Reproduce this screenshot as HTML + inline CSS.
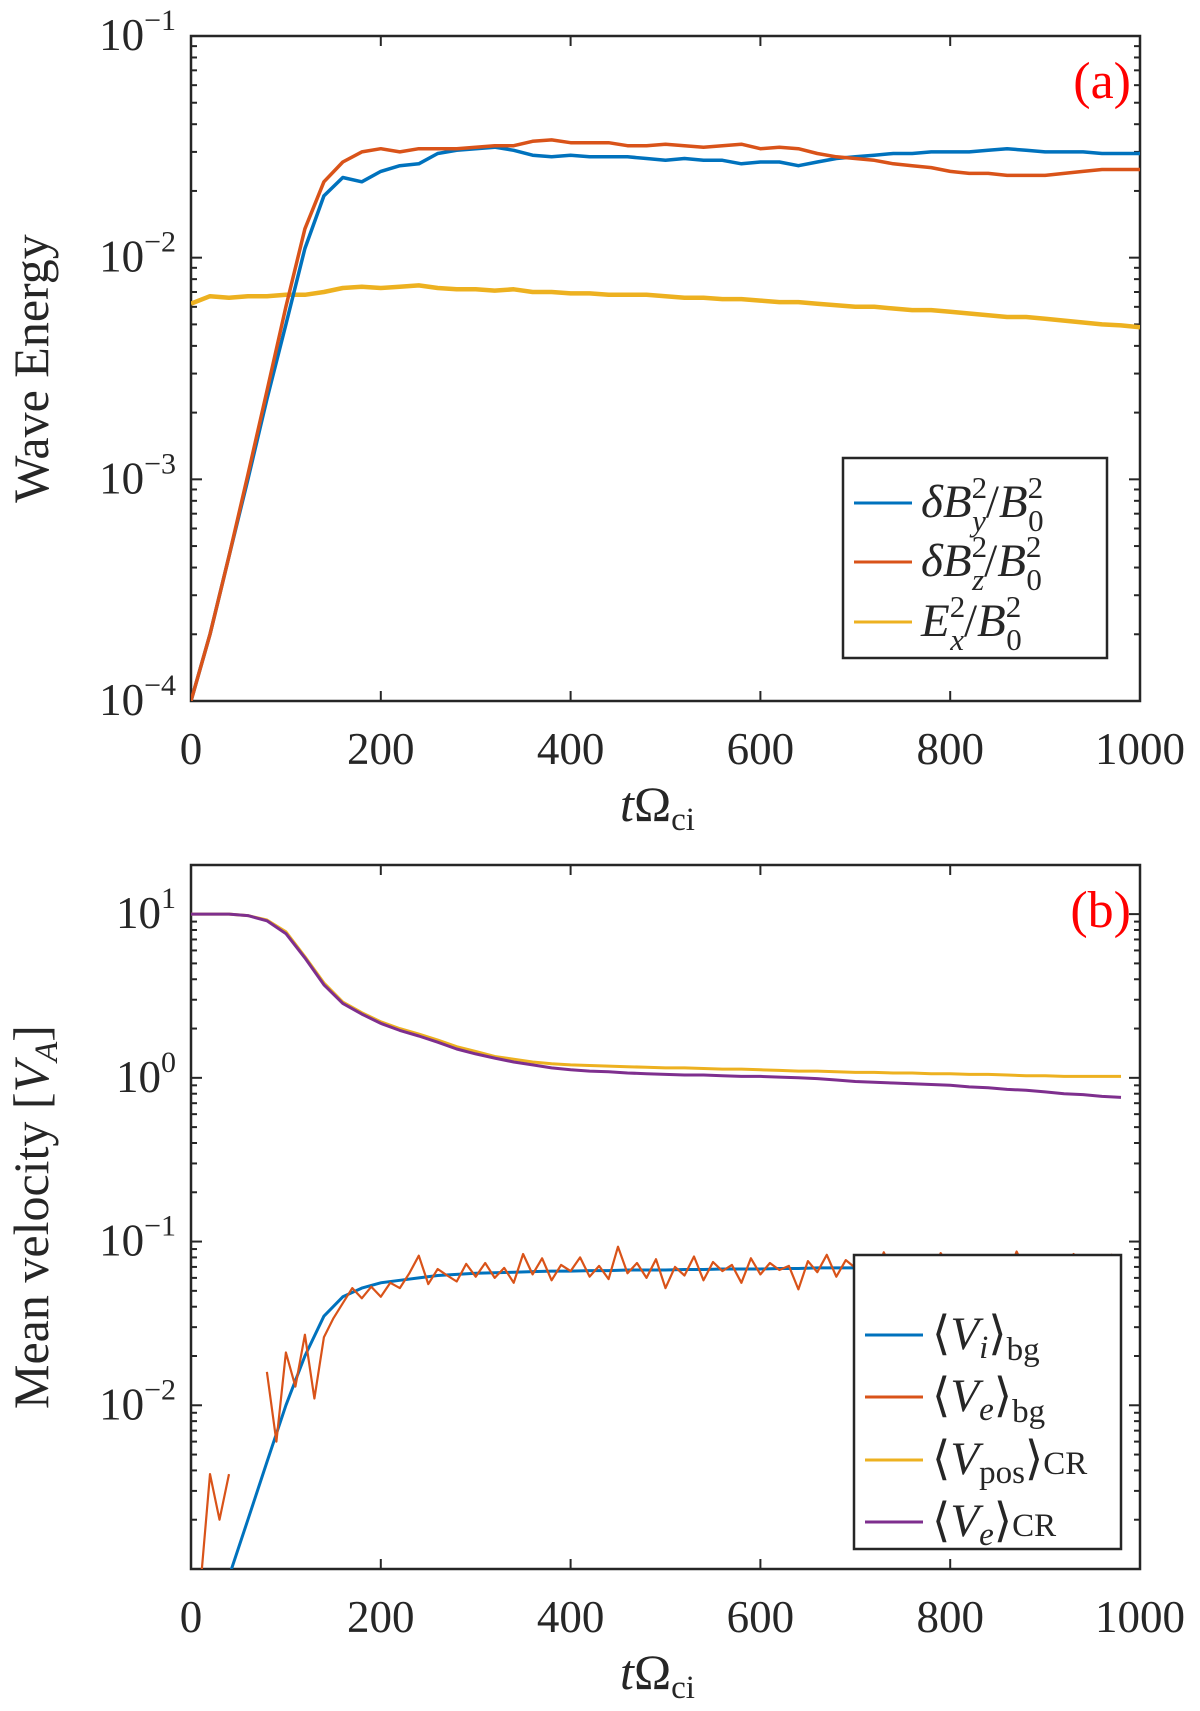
<!DOCTYPE html>
<html><head><meta charset="utf-8">
<style>
html,body{margin:0;padding:0;background:#fff;}
svg{display:block;font-family:"Liberation Serif","DejaVu Serif",serif;}
.tk{font-size:45px;fill:#262626;}
.it{font-style:italic;}
</style></head>
<body>
<svg id="fig" width="1200" height="1711" viewBox="0 0 1200 1711" xmlns="http://www.w3.org/2000/svg">
<defs>
<clipPath id="clipA"><rect x="191" y="36" width="949" height="665"/></clipPath>
<clipPath id="clipB"><rect x="191" y="865" width="949" height="704"/></clipPath>
</defs>
<g id="panelA"></g>
<g id="panelB"></g>
</svg>
<script>
// ---------- Panel (a) data ----------
const tA = [0,20,40,60,80,100,120,140,160,180,200,220,240,260,280,300,320,340,360,380,400,420,440,460,480,500,520,540,560,580,600,620,640,660,680,700,720,740,760,780,800,820,840,860,880,900,920,940,960,980,1000];
const dBy = [1e-4,2e-4,4.5e-4,1e-3,2.3e-3,5e-3,1.1e-2,1.9e-2,2.3e-2,2.2e-2,2.45e-2,2.6e-2,2.65e-2,2.95e-2,3.05e-2,3.1e-2,3.15e-2,3.05e-2,2.9e-2,2.85e-2,2.9e-2,2.85e-2,2.85e-2,2.85e-2,2.8e-2,2.75e-2,2.8e-2,2.75e-2,2.75e-2,2.65e-2,2.7e-2,2.7e-2,2.6e-2,2.7e-2,2.8e-2,2.85e-2,2.9e-2,2.95e-2,2.95e-2,3.0e-2,3.0e-2,3.0e-2,3.05e-2,3.1e-2,3.05e-2,3.0e-2,3.0e-2,3.0e-2,2.95e-2,2.95e-2,2.95e-2];
const dBz = [1e-4,2e-4,4.5e-4,1.05e-3,2.5e-3,6e-3,1.35e-2,2.2e-2,2.7e-2,3.0e-2,3.1e-2,3.0e-2,3.1e-2,3.1e-2,3.1e-2,3.15e-2,3.2e-2,3.2e-2,3.35e-2,3.4e-2,3.3e-2,3.3e-2,3.3e-2,3.2e-2,3.2e-2,3.25e-2,3.2e-2,3.15e-2,3.2e-2,3.25e-2,3.1e-2,3.15e-2,3.1e-2,2.95e-2,2.85e-2,2.8e-2,2.75e-2,2.65e-2,2.6e-2,2.55e-2,2.45e-2,2.4e-2,2.4e-2,2.35e-2,2.35e-2,2.35e-2,2.4e-2,2.45e-2,2.5e-2,2.5e-2,2.5e-2];
const Ex = [6.2e-3,6.7e-3,6.6e-3,6.7e-3,6.7e-3,6.8e-3,6.8e-3,7.0e-3,7.3e-3,7.4e-3,7.3e-3,7.4e-3,7.5e-3,7.3e-3,7.2e-3,7.2e-3,7.1e-3,7.2e-3,7.0e-3,7.0e-3,6.9e-3,6.9e-3,6.8e-3,6.8e-3,6.8e-3,6.7e-3,6.6e-3,6.6e-3,6.5e-3,6.5e-3,6.4e-3,6.3e-3,6.3e-3,6.2e-3,6.1e-3,6.0e-3,6.0e-3,5.9e-3,5.8e-3,5.8e-3,5.7e-3,5.6e-3,5.5e-3,5.4e-3,5.4e-3,5.3e-3,5.2e-3,5.1e-3,5.0e-3,4.95e-3,4.85e-3];
const xTicks = [0,200,400,600,800,1000];
const yTicksA = [-4,-3,-2,-1];

// ---------- Panel (b) data ----------
const tB = [0,20,40,60,80,100,120,140,160,180,200,220,240,260,280,300,320,340,360,380,400,420,440,460,480,500,520,540,560,580,600,620,640,660,680,700,720,740,760,780,800,820,840,860,880,900,920,940,960,980];
const Vpos = [10,10,10,9.8,9.2,7.8,5.5,3.8,2.9,2.5,2.2,2.0,1.85,1.7,1.55,1.45,1.35,1.3,1.25,1.22,1.2,1.19,1.18,1.17,1.16,1.15,1.15,1.14,1.13,1.13,1.12,1.11,1.1,1.1,1.09,1.08,1.08,1.07,1.07,1.06,1.06,1.05,1.05,1.04,1.03,1.03,1.02,1.02,1.02,1.02];
const VeCR = [10,10,10,9.8,9.1,7.6,5.4,3.7,2.85,2.45,2.15,1.95,1.8,1.65,1.5,1.4,1.32,1.25,1.2,1.15,1.12,1.1,1.09,1.07,1.06,1.05,1.04,1.04,1.03,1.02,1.02,1.01,1.0,0.99,0.97,0.95,0.94,0.93,0.92,0.91,0.9,0.88,0.87,0.85,0.84,0.82,0.8,0.79,0.77,0.76];
const Vibg = [null,null,9e-4,2e-3,4.5e-3,1e-2,2e-2,3.5e-2,4.6e-2,5.2e-2,5.6e-2,5.8e-2,6e-2,6.2e-2,6.3e-2,6.4e-2,6.45e-2,6.5e-2,6.55e-2,6.6e-2,6.6e-2,6.65e-2,6.65e-2,6.7e-2,6.7e-2,6.7e-2,6.75e-2,6.75e-2,6.8e-2,6.8e-2,6.8e-2,6.85e-2,6.85e-2,6.9e-2,6.9e-2,6.9e-2,6.95e-2,6.95e-2,7e-2,7e-2,7e-2,7.05e-2,7.05e-2,7.1e-2,7.1e-2,7.1e-2,7.15e-2,7.15e-2,7.2e-2,7.2e-2];
const tVe = [];
for (let i=0;i<=98;i++) tVe.push(i*10);
const Vebg = [null,8e-4,3.8e-3,2e-3,3.8e-3,null,6.5e-3,null,1.6e-2,6e-3,2.1e-2,1.3e-2,2.7e-2,1.1e-2,2.6e-2,3.4e-2,4.2e-2,5.2e-2,4.5e-2,5.3e-2,4.6e-2,5.6e-2,5.2e-2,6.4e-2,8.2e-2,5.5e-2,6.8e-2,6.2e-2,5.7e-2,7.3e-2,6.1e-2,7.4e-2,6.0e-2,6.9e-2,5.6e-2,8.4e-2,6.3e-2,7.9e-2,5.8e-2,7.2e-2,6.6e-2,8.0e-2,6.1e-2,7.1e-2,5.9e-2,9.3e-2,6.4e-2,7.4e-2,6.0e-2,7.8e-2,5.2e-2,7.0e-2,6.2e-2,8.1e-2,5.8e-2,7.5e-2,6.6e-2,7.2e-2,5.6e-2,7.9e-2,6.3e-2,7.4e-2,6.7e-2,7.1e-2,5.1e-2,7.6e-2,6.5e-2,8.3e-2,6.1e-2,7.7e-2,6.9e-2,7.0e-2,5.9e-2,8.6e-2,6.4e-2,8.0e-2,6.7e-2,7.3e-2,6.2e-2,8.5e-2,7.0e-2,7.6e-2,6.3e-2,8.2e-2,6.8e-2,7.4e-2,6.0e-2,8.7e-2,6.5e-2,7.6e-2,5.8e-2,7.2e-2,6.9e-2,8.4e-2,6.2e-2,7.5e-2,5.7e-2,8.3e-2,6.9e-2];
const yTicksB = [-2,-1,0,1];

const NS = "http://www.w3.org/2000/svg";
function mk(tag, attrs, parent){const e=document.createElementNS(NS,tag);for(const k in attrs)e.setAttribute(k,attrs[k]);parent.appendChild(e);return e;}

const X0=191, X1=1140;
function xs(t){return X0+(X1-X0)*t/1000;}

function axes(g, yTop, yBot, lmin, lmax, yTicks, label, panelTxt, clipId){
  const ys = v => yBot - (yBot-yTop)*(Math.log10(v)-lmin)/(lmax-lmin);
  const tg = mk('g',{},g);
  
  
  for (const t of xTicks){
    const x=xs(t);
    mk('line',{x1:x,y1:yBot,x2:x,y2:yBot-10,stroke:'#262626','stroke-width':2},tg);
    mk('line',{x1:x,y1:yTop,x2:x,y2:yTop+10,stroke:'#262626','stroke-width':2},tg);
    const tx=mk('text',{x:x,y:yBot+63,'text-anchor':'middle',class:'tk'},tg);
    tx.textContent=t;
    
    
  }
  for (let d=Math.floor(lmin); d<Math.ceil(lmax); d++){
    for (let m=2;m<=9;m++){
      const lv=d+Math.log10(m); if(lv<lmin||lv>lmax) continue;
      const y=yBot-(yBot-yTop)*(lv-lmin)/(lmax-lmin);
      mk('line',{x1:X0,y1:y,x2:X0+6,y2:y,stroke:'#262626','stroke-width':2},tg);
      mk('line',{x1:X1,y1:y,x2:X1-6,y2:y,stroke:'#262626','stroke-width':2},tg);
    }
  }
  for (const d of yTicks){
    const y=ys(Math.pow(10,d));
    mk('line',{x1:X0,y1:y,x2:X0+11,y2:y,stroke:'#262626','stroke-width':2},tg);
    mk('line',{x1:X1,y1:y,x2:X1-11,y2:y,stroke:'#262626','stroke-width':2},tg);
    const tx=mk('text',{x:176,y:y+14,'text-anchor':'end',class:'tk'},tg);
    
    
    tx.textContent='10';
    const sp=mk('tspan',{dy:-20,'font-size':'30'},tx);
    sp.textContent=(d<0?'\u2212':'')+Math.abs(d);
  }
  const box=mk('rect',{x:X0,y:yTop,width:X1-X0,height:yBot-yTop,fill:'none',stroke:'#262626','stroke-width':2.5},g);
  
  
  const xl=mk('text',{x:(X0+X1)/2-8,y:yBot+120,'text-anchor':'middle','font-size':'50',fill:'#262626'},g);
  
  
  const a=mk('tspan',{class:'it'},xl); a.textContent='t';
  const b=mk('tspan',{},xl); b.textContent='\u03A9';
  const c=mk('tspan',{'font-size':'33',dy:9},xl); c.textContent='ci';
  const yl=mk('text',{transform:`translate(48,${(yTop+yBot)/2}) rotate(-90)`,'text-anchor':'middle','font-size':'50',fill:'#262626'},g);
  
  
  if (label==='a'){ yl.textContent='Wave Energy'; }
  else { const p=mk('tspan',{},yl); p.textContent='Mean velocity ['; const q=mk('tspan',{class:'it'},yl); q.textContent='V'; const r=mk('tspan',{class:'it','font-size':'33',dy:9},yl); r.textContent='A'; const s=mk('tspan',{dy:-9},yl); s.textContent=']'; }
  const pt=mk('text',{x:1131,y:yTop+62,'text-anchor':'end','font-size':'52',fill:'#ff0000'},g);
  pt.textContent=panelTxt;
  
  
  return ys;
}

function line(g, ts, vals, ys, color, w, clipId, name){
  let d='', pen=false;
  for (let i=0;i<ts.length;i++){
    const v=vals[i];
    if (v===null||v===undefined){pen=false;continue;}
    d += (pen?'L':'M')+xs(ts[i]).toFixed(1)+','+ys(v).toFixed(1);
    pen=true;
  }
  const p=mk('path',{d:d,fill:'none',stroke:color,'stroke-width':w,'stroke-linejoin':'round','clip-path':`url(#${clipId})`},g);
  
  
}

function legend(g, x, y, w, h, rows, rowY){
  const lg=mk('g',{},g);
  
  
  mk('rect',{x:x,y:y,width:w,height:h,fill:'#fff',stroke:'#262626','stroke-width':2.5},lg);
  rows.forEach((r,i)=>{
    const e=mk('g',{},lg);
    
    
    const yy=rowY[i];
    mk('line',{x1:x+11,y1:yy,x2:x+69,y2:yy,stroke:r.c,'stroke-width':3},e);
    const t=mk('text',{x:x+78,y:yy+14,'font-size':'47',fill:'#262626'},e);
    r.parts.forEach(p=>{const s=mk('tspan',p.a||{},t); s.textContent=p.t;});
  });
}

// ----- Panel A -----
const gA=document.getElementById('panelA');
const ysA=axes(gA,36,701,-4,-1,yTicksA,'a','(a)','clipA');
line(gA,tA,Ex,ysA,'#EDB120',4.5,'clipA','ex-energy-line');
line(gA,tA,dBy,ysA,'#0072BD',3.5,'clipA','by-energy-line');
line(gA,tA,dBz,ysA,'#D95319',3.5,'clipA','bz-energy-line');
const sup=(t)=>({t:t,a:{'font-size':'31',dy:-19}});
legend(gA,843,458,264,200,[
 {c:'#0072BD',parts:[{t:'\u03B4B',a:{class:'it'}},sup('2'),{t:'y',a:{class:'it','font-size':'31',dx:-15,dy:33}},{t:'/',a:{dy:-14}},{t:'B',a:{class:'it'}},sup('2'),{t:'0',a:{'font-size':'31',dx:-15,dy:33}}]},
 {c:'#D95319',parts:[{t:'\u03B4B',a:{class:'it'}},sup('2'),{t:'z',a:{class:'it','font-size':'31',dx:-15,dy:33}},{t:'/',a:{dy:-14}},{t:'B',a:{class:'it'}},sup('2'),{t:'0',a:{'font-size':'31',dx:-15,dy:33}}]},
 {c:'#EDB120',parts:[{t:'E',a:{class:'it'}},sup('2'),{t:'x',a:{class:'it','font-size':'31',dx:-15,dy:33}},{t:'/',a:{dy:-14}},{t:'B',a:{class:'it'}},sup('2'),{t:'0',a:{'font-size':'31',dx:-15,dy:33}}]}
],[503,562,622]);

// ----- Panel B -----
const gB=document.getElementById('panelB');
const ysB=axes(gB,865,1569,-3,1.3,yTicksB,'b','(b)','clipB');
line(gB,tB,Vpos,ysB,'#EDB120',3,'clipB','vpos-cr-line');
line(gB,tB,VeCR,ysB,'#7E2F8E',3,'clipB','ve-cr-line');
line(gB,tB,Vibg,ysB,'#0072BD',3,'clipB','vi-bg-line');
line(gB,tVe,Vebg,ysB,'#D95319',2.2,'clipB','ve-bg-line');
const sub=(t,dy)=>({t:t,a:{'font-size':'33',dy:dy}});
legend(gB,854,1255,267,294,[
 {c:'#0072BD',parts:[{t:'\u27E8'},{t:'V',a:{class:'it'}},{t:'i',a:{class:'it','font-size':'33',dy:9}},{t:'\u27E9',a:{dy:-9}},sub('bg',11)]},
 {c:'#D95319',parts:[{t:'\u27E8'},{t:'V',a:{class:'it'}},{t:'e',a:{class:'it','font-size':'33',dy:9}},{t:'\u27E9',a:{dy:-9}},sub('bg',11)]},
 {c:'#EDB120',parts:[{t:'\u27E8'},{t:'V',a:{class:'it'}},{t:'pos',a:{'font-size':'33',dy:9}},{t:'\u27E9',a:{dy:-9}},sub('CR',0)]},
 {c:'#7E2F8E',parts:[{t:'\u27E8'},{t:'V',a:{class:'it'}},{t:'e',a:{class:'it','font-size':'33',dy:9}},{t:'\u27E9',a:{dy:-9}},sub('CR',0)]}
],[1335,1397,1460,1522]);
</script>
</body></html>
